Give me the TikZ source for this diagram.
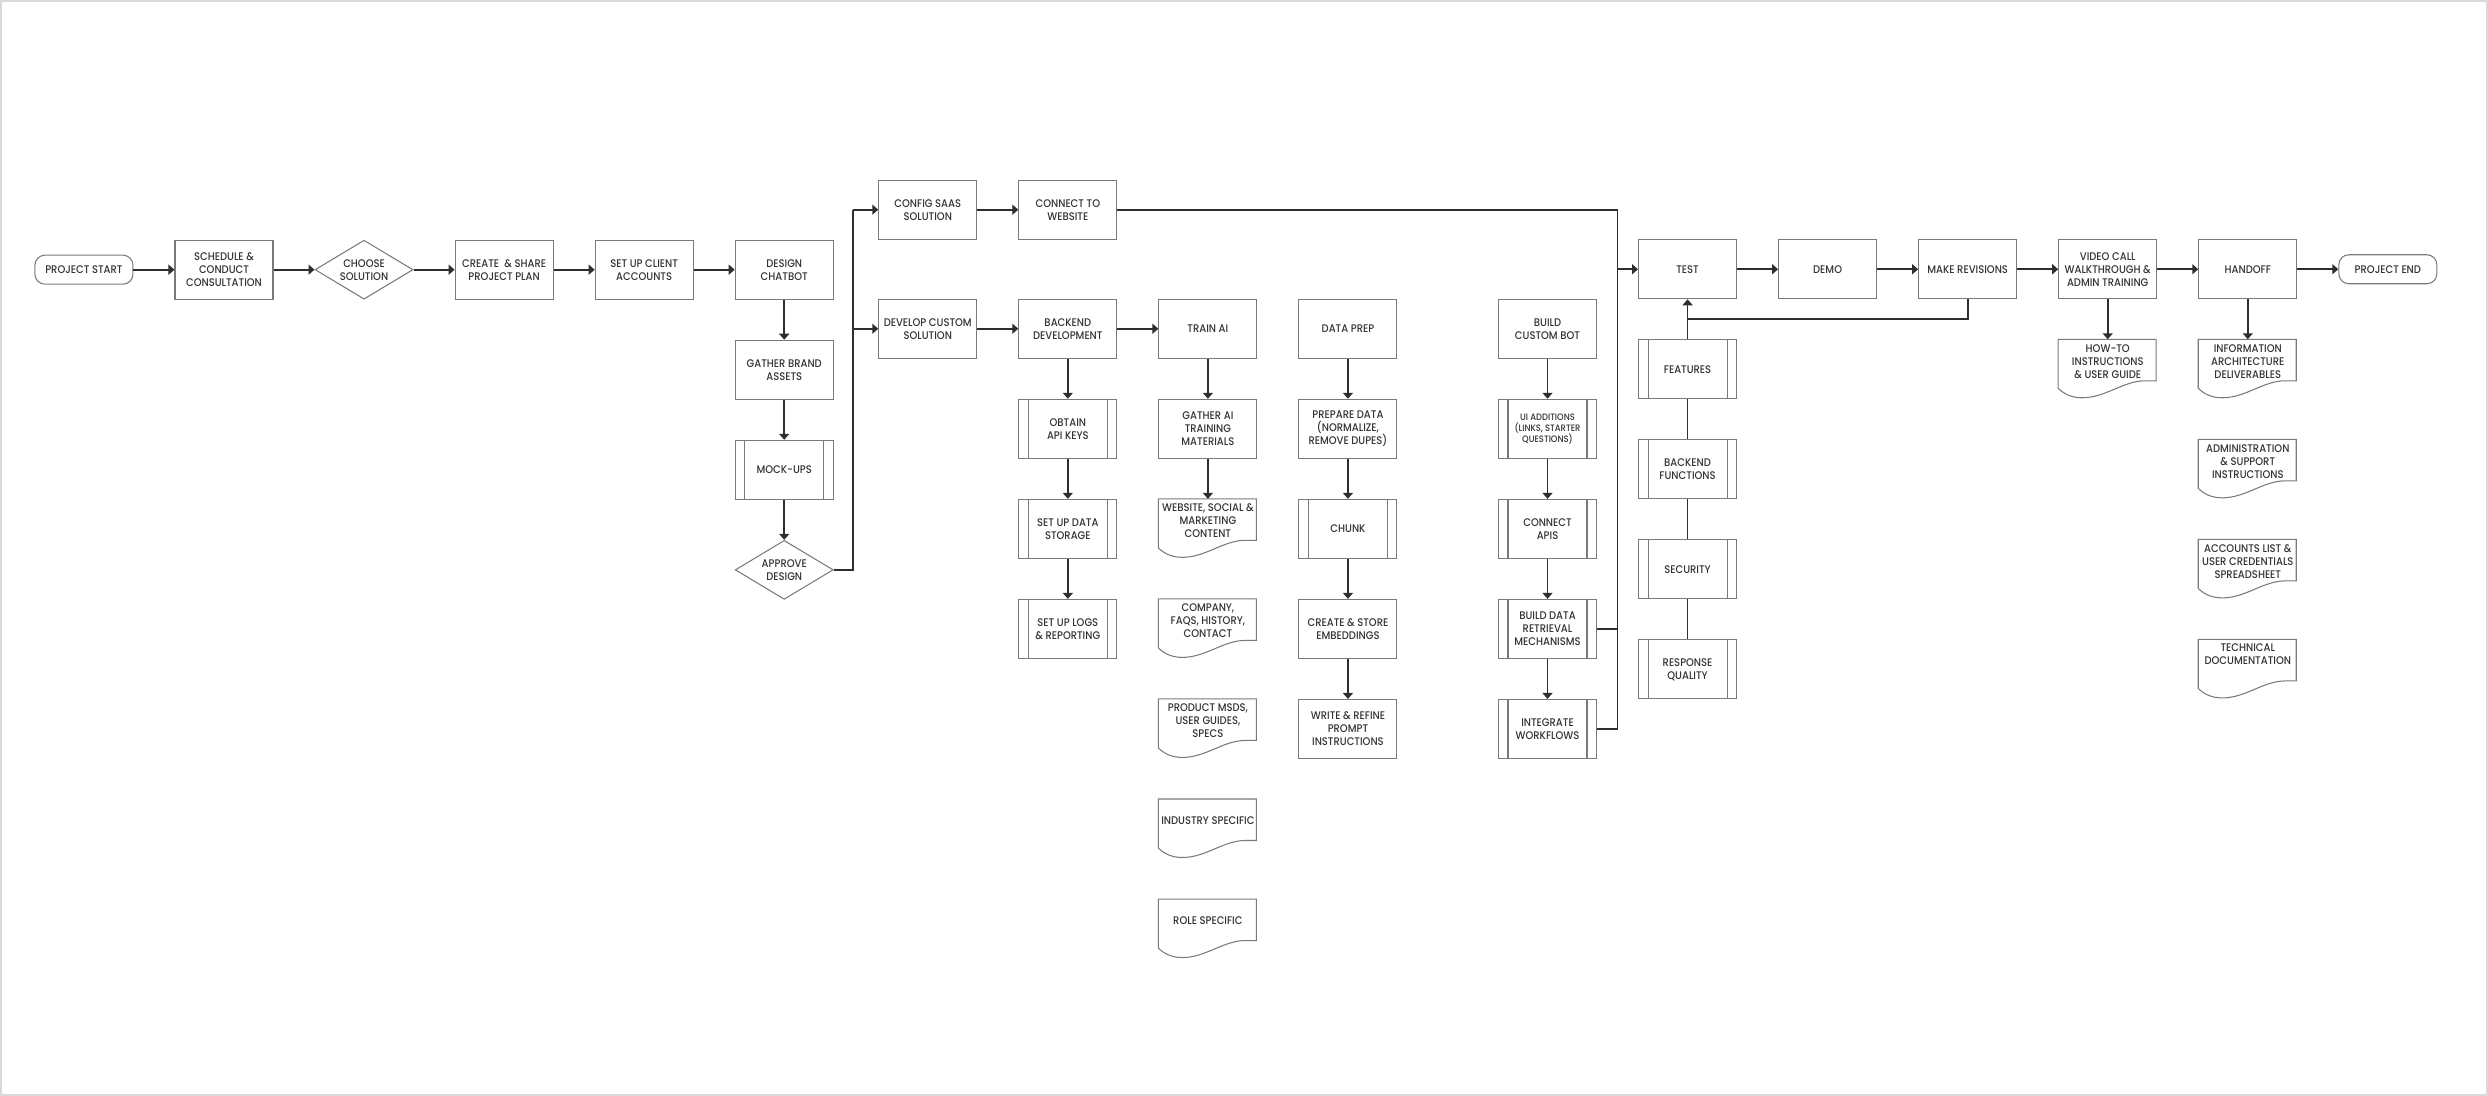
\documentclass[tikz,border=0pt]{standalone}
\usepackage{fontspec}
\setmainfont{Poppins}[FakeStretch=0.9, UprightFont=* Medium]
\usepackage{tikz}
\usetikzlibrary{arrows.meta, positioning, shapes.geometric, calc}
\definecolor{lineink}{HTML}{2E2E2E}
\definecolor{boxink}{HTML}{7A7A7A}
\definecolor{textink}{HTML}{333333}
\definecolor{frameink}{HTML}{D9D9D9}

\tikzset{
  boxbase/.style={draw=boxink, line width=0.6pt, text=textink, align=center, inner sep=1pt,
                  font=\fontsize{6.3}{7.4}\selectfont},
  proc/.style={boxbase, rectangle, minimum width=1.96cm, minimum height=1.18cm},
  predef/.style={proc, path picture={
      \draw[boxink, line width=0.6pt]
        ([xshift=0.19cm]path picture bounding box.north west) -- ([xshift=0.19cm]path picture bounding box.south west)
        ([xshift=-0.19cm]path picture bounding box.north east) -- ([xshift=-0.19cm]path picture bounding box.south east);}},
  decide/.style={boxbase, diamond, aspect=1.66, minimum width=1.96cm, minimum height=1.18cm, inner sep=0pt},
  term/.style={boxbase, rectangle, rounded corners=0.2cm, minimum width=1.96cm, minimum height=0.58cm},
  doc/.style={boxbase, draw=none, minimum width=1.96cm, minimum height=0.86cm,
      append after command={\pgfextra{
        \draw[boxink, line width=0.6pt, shift={(\tikzlastnode.north west)}]
          (0,0) -- (1.96,0) -- (1.96,-0.83) -- (1.74,-0.83)
          .. controls (1.3,-0.83) and (0.95,-1.17) .. (0.48,-1.17)
          .. controls (0.25,-1.17) and (0.1,-1.08) .. (0,-0.98) -- cycle;}}},
  flow/.style={-{Triangle[length=0.12cm, width=0.2cm]}, line width=1pt, lineink},
  link/.style={line width=1pt, lineink},
}

\begin{document}
\begin{tikzpicture}[node distance=0.80cm and 0.82cm]
  \useasboundingbox (0,0) rectangle (49.76,-21.92);
  \draw[frameink, line width=0.04cm] (0.02,-0.02) rectangle (49.74,-21.90);

  % main row
  \node[proc] (sched) at (4.48,-5.394) {SCHEDULE \&\\CONDUCT\\CONSULTATION};
  \node[term, left=of sched] (start) {PROJECT START};
  \node[decide, right=of sched] (choose) {CHOOSE\\SOLUTION};
  \node[proc, right=of choose] (plan) {CREATE\ \ \& SHARE\\PROJECT PLAN};
  \node[proc, right=of plan] (accounts) {SET UP CLIENT\\ACCOUNTS};
  \node[proc, right=of accounts] (design) {DESIGN\\CHATBOT};
  \node[proc, below=of design] (brand) {GATHER BRAND\\ASSETS};
  \node[predef, below=of brand] (mockups) {MOCK-UPS};
  \node[decide, below=of mockups] (approve) {APPROVE\\DESIGN};

  % saas and custom branches
  \node[proc, right=0.89cm of design, yshift=1.2cm] (config) {CONFIG SAAS\\SOLUTION};
  \node[proc, right=of config] (connect) {CONNECT TO\\WEBSITE};
  \node[proc, below=1.18cm of config] (develop) {DEVELOP CUSTOM\\SOLUTION};
  \node[proc, right=of develop] (backend) {BACKEND\\DEVELOPMENT};
  \node[predef, below=of backend] (apikeys) {OBTAIN\\API KEYS};
  \node[predef, below=of apikeys] (storage) {SET UP DATA\\STORAGE};
  \node[predef, below=of storage] (logs) {SET UP LOGS\\\& REPORTING};

  \node[proc, right=of backend] (train) {TRAIN AI};
  \node[proc, below=of train] (gather) {GATHER AI\\TRAINING\\MATERIALS};
  \node[doc, below=of gather] (website) {WEBSITE, SOCIAL \&\\MARKETING\\CONTENT};
  \node[doc, below=1.12cm of website] (company) {COMPANY,\\FAQS, HISTORY,\\CONTACT};
  \node[doc, below=1.12cm of company] (product) {PRODUCT MSDS,\\USER GUIDES,\\SPECS};
  \node[doc, below=1.12cm of product] (industry) {INDUSTRY SPECIFIC};
  \node[doc, below=1.12cm of industry] (role) {ROLE SPECIFIC};

  \node[proc, right=of train] (dataprep) {DATA PREP};
  \node[proc, below=of dataprep] (prepare) {PREPARE DATA\\(NORMALIZE,\\REMOVE DUPES)};
  \node[predef, below=of prepare] (chunk) {CHUNK};
  \node[proc, below=of chunk] (embed) {CREATE \& STORE\\EMBEDDINGS};
  \node[proc, below=of embed] (prompt) {WRITE \& REFINE\\PROMPT\\INSTRUCTIONS};

  \node[proc, right=2.01cm of dataprep] (build) {BUILD\\CUSTOM BOT};
  \node[predef, below=of build, font=\fontsize{5.3}{6.3}\selectfont] (uiadd) {UI ADDITIONS\\(LINKS, STARTER\\QUESTIONS)};
  \node[predef, below=of uiadd] (apis) {CONNECT\\APIS};
  \node[predef, below=of apis] (retrieval) {BUILD DATA\\RETRIEVAL\\MECHANISMS};
  \node[predef, below=of retrieval] (integrate) {INTEGRATE\\WORKFLOWS};

  % test and delivery
  \node[proc, right=of build, yshift=1.19cm] (test) {TEST};
  \node[predef, below=of test] (features) {FEATURES};
  \node[predef, below=of features] (backfn) {BACKEND\\FUNCTIONS};
  \node[predef, below=of backfn] (security) {SECURITY};
  \node[predef, below=of security] (quality) {RESPONSE\\QUALITY};
  \node[proc, right=of test] (demo) {DEMO};
  \node[proc, right=of demo] (revise) {MAKE REVISIONS};
  \node[proc, right=of revise] (video) {VIDEO CALL\\WALKTHROUGH \&\\ADMIN TRAINING};
  \node[doc, below=of video] (howto) {HOW-TO\\INSTRUCTIONS\\\& USER GUIDE};
  \node[proc, right=of video] (handoff) {HANDOFF};
  \node[doc, below=of handoff] (infoarch) {INFORMATION\\ARCHITECTURE\\DELIVERABLES};
  \node[doc, below=1.12cm of infoarch] (admin) {ADMINISTRATION\\\& SUPPORT\\INSTRUCTIONS};
  \node[doc, below=1.12cm of admin] (creds) {ACCOUNTS LIST \&\\USER CREDENTIALS\\SPREADSHEET};
  \node[doc, below=1.12cm of creds, minimum height=0.58cm] (techdoc) {TECHNICAL\\DOCUMENTATION};
  \node[term, right=of handoff] (finish) {PROJECT END};

  % connectors
  \draw[flow] (start) -- (sched);
  \draw[flow] (sched) -- (choose);
  \draw[flow] (choose) -- (plan);
  \draw[flow] (plan) -- (accounts);
  \draw[flow] (accounts) -- (design);
  \draw[flow] (design) -- (brand);
  \draw[flow] (brand) -- (mockups);
  \draw[flow] (mockups) -- (approve);

  \coordinate (abus) at ($(config.west)+(-0.5,0)$);
  \draw[link] (approve.east) -| (abus);
  \draw[flow] (abus) -- (config.west);
  \draw[flow] (abus |- develop.west) -- (develop.west);

  \draw[flow] (config) -- (connect);
  \draw[flow] (develop) -- (backend);
  \draw[flow] (backend) -- (train);
  \draw[flow] (backend) -- (apikeys);
  \draw[flow] (apikeys) -- (storage);
  \draw[flow] (storage) -- (logs);
  \draw[flow] (train) -- (gather);
  \draw[flow] (gather) -- (website);
  \draw[flow] (dataprep) -- (prepare);
  \draw[flow] (prepare) -- (chunk);
  \draw[flow] (chunk) -- (embed);
  \draw[flow] (embed) -- (prompt);
  \draw[flow] (build) -- (uiadd);
  \draw[flow] (uiadd) -- (apis);
  \draw[flow] (apis) -- (retrieval);
  \draw[flow] (retrieval) -- (integrate);

  \coordinate (tbus) at ($(test.west)+(-0.41,0)$);
  \draw[link] (connect.east) -| (tbus |- integrate.east) -- (integrate.east);
  \draw[link] (retrieval.east) -- (tbus |- retrieval.east);
  \draw[flow] (tbus) -- (test.west);

  \draw[flow] (test) -- (demo);
  \draw[flow] (demo) -- (revise);
  \draw[flow] (revise) -- (video);
  \draw[flow] (video) -- (handoff);
  \draw[flow] (handoff) -- (finish);
  \draw[flow] (video) -- (howto);
  \draw[flow] (handoff) -- (infoarch);

  \coordinate (loop) at ($(test.south)!0.5!(features.north)$);
  \draw[link] (revise.south) |- (loop);
  \draw[flow] (features) -- (test);
  \draw[link] (features) -- (backfn);
  \draw[link] (backfn) -- (security);
  \draw[link] (security) -- (quality);
\end{tikzpicture}
\end{document}
